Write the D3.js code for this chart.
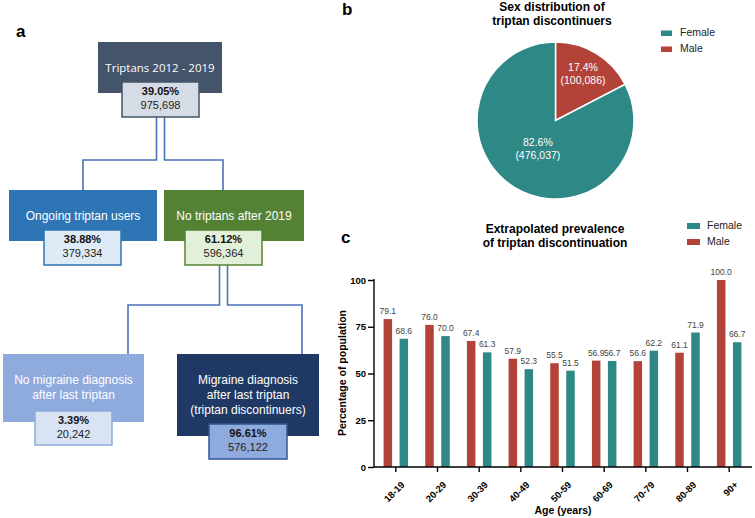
<!DOCTYPE html>
<html>
<head>
<meta charset="utf-8">
<script src="https://cdn.jsdelivr.net/npm/d3@7"></script>
<style>
  body { margin: 0; background: #fff; }
  svg { display: block; font-family: "Liberation Sans", Arial, sans-serif; }
</style>
</head>
<body>
<svg id="chart" width="755" height="518"></svg>
<script>
// ---------- DATA ----------
// Panel a: flowchart nodes
const flowLabels = [
  ["Triptans 2012 - 2019"],
  ["Ongoing triptan users"],
  ["No triptans after 2019"],
  ["No migraine diagnosis", "after last triptan"],
  ["Migraine diagnosis", "after last triptan", "(triptan discontinuers)"]
];
const flowPct = ["39.05%", "38.88%", "61.12%", "3.39%", "96.61%"];
const flowCount = ["975,698", "379,334", "596,364", "20,242", "576,122"];
const flowParent = [null, 0, 0, 2, 2];

// Panel b: pie
const sexes = ["Male", "Female"];
const sexCounts = [100086, 476037];
const sexPctLabels = ["17.4%", "82.6%"];
const sexCountLabels = ["(100,086)", "(476,037)"];

// Panel c: grouped bars
const ageGroups = ["18-19", "20-29", "30-39", "40-49", "50-59", "60-69", "70-79", "80-89", "90+"];
const maleValues = [79.1, 76.0, 67.4, 57.9, 55.5, 56.9, 56.6, 61.1, 100.0];
const femaleValues = [68.6, 70.0, 61.3, 52.3, 51.5, 56.7, 62.2, 71.9, 66.7];
const yTicks = [0, 25, 50, 75, 100];

// ---------- STYLE / LAYOUT ----------
const teal = "#2e8886";
const red = "#b34338";
const boxLayout = [
  {x: 98, y: 42, w: 124, h: 51, ix: 122, iy: 82, iw: 77, ih: 35, fill: "#44546a", ifill: "#d6dce5", istroke: "#44546a", midY: 160},
  {x: 9, y: 190, w: 148, h: 51, ix: 44, iy: 230, iw: 77, ih: 35, fill: "#2e75b6", ifill: "#deebf7", istroke: "#2e75b6", inX: 83},
  {x: 164, y: 190, w: 140, h: 51, ix: 185, iy: 230, iw: 77, ih: 35, fill: "#548235", ifill: "#e2f0d9", istroke: "#548235", inX: 223, midY: 305},
  {x: 3, y: 354, w: 141, h: 68, ix: 35, iy: 411, iw: 77, ih: 34, fill: "#8faadc", ifill: "#dae3f3", istroke: "#8faadc", inX: 128},
  {x: 177, y: 354, w: 142, h: 82, ix: 209, iy: 424, iw: 78, ih: 35, fill: "#203864", ifill: "#8faadc", istroke: "#2f5597", inX: 302}
];

const svg = d3.select("#chart");

// ---------- PANEL A: FLOWCHART ----------
const gA = svg.append("g");
gA.append("text").attr("x", 16).attr("y", 37).attr("font-size", 17).attr("font-weight", "bold").text("a");

// connectors
const connColor = "#4a72b8";
const children = {};
flowParent.forEach((p, i) => { if (p !== null) (children[p] = children[p] || []).push(i); });
Object.keys(children).forEach(p => {
  const pb = boxLayout[p];
  const kids = children[p];
  const bottom = pb.iy + pb.ih;
  const cx = pb.ix + pb.iw / 2;
  kids.forEach((k, j) => {
    const kb = boxLayout[k];
    const sx = j === 0 ? cx - 4 : cx + 4;
    gA.append("path")
      .attr("d", d3.line()([[sx, bottom], [sx, pb.midY], [kb.inX, pb.midY], [kb.inX, kb.y]]))
      .attr("fill", "none").attr("stroke", connColor).attr("stroke-width", 1.6);
  });
});

flowLabels.forEach((lines, i) => {
  const b = boxLayout[i];
  gA.append("rect").attr("x", b.x).attr("y", b.y).attr("width", b.w).attr("height", b.h).attr("fill", b.fill);
  lines.forEach((t, j) => {
    gA.append("text").attr("x", b.x + b.w / 2).attr("y", b.y + 26.5 + j * 15)
      .attr("text-anchor", "middle").attr("dominant-baseline", "middle")
      .attr("fill", "#fff").attr("font-size", i === 0 ? 11.5 : 12)
      .attr("font-family", i === 0 ? "'Open Sans', sans-serif" : null)
      .text(t);
  });
  gA.append("rect").attr("x", b.ix).attr("y", b.iy).attr("width", b.iw).attr("height", b.ih)
    .attr("fill", b.ifill).attr("stroke", b.istroke).attr("stroke-width", 1.5);
  gA.append("text").attr("x", b.ix + b.iw / 2).attr("y", b.iy + 10.5)
    .attr("text-anchor", "middle").attr("dominant-baseline", "middle")
    .attr("font-size", 11).attr("font-weight", "bold").attr("fill", "#111").text(flowPct[i]);
  gA.append("text").attr("x", b.ix + b.iw / 2).attr("y", b.iy + 24.5)
    .attr("text-anchor", "middle").attr("dominant-baseline", "middle")
    .attr("font-size", 11).attr("fill", "#222").text(flowCount[i]);
});

// ---------- PANEL B: PIE ----------
const gB = svg.append("g");
gB.append("text").attr("x", 342).attr("y", 15).attr("font-size", 17).attr("font-weight", "bold").text("b");
gB.append("text").attr("x", 552).attr("y", 11).attr("text-anchor", "middle").attr("font-size", 12).attr("font-weight", "bold").text("Sex distribution of");
gB.append("text").attr("x", 552).attr("y", 24.5).attr("text-anchor", "middle").attr("font-size", 12).attr("font-weight", "bold").text("triptan discontinuers");

const pieColor = d3.scaleOrdinal().domain(sexes).range([red, teal]);
const pie = d3.pie().sort(null).value(d => d.v);
const pieData = pie(sexes.map((s, i) => ({s, v: sexCounts[i], p: sexPctLabels[i], c: sexCountLabels[i]})));
const R = 78.5;
const arc = d3.arc().innerRadius(0).outerRadius(R);
const labelR = [53, 34];
const gPie = gB.append("g").attr("transform", "translate(555.5,120.5)");
gPie.selectAll("path").data(pieData).join("path")
  .attr("d", arc).attr("fill", d => pieColor(d.data.s))
  .attr("stroke", "#fff").attr("stroke-width", 1.5);
pieData.forEach((d, i) => {
  const a = (d.startAngle + d.endAngle) / 2;
  const lx = Math.sin(a) * labelR[i], ly = -Math.cos(a) * labelR[i];
  gPie.append("text").attr("x", lx).attr("y", ly - 6.5).attr("text-anchor", "middle").attr("dominant-baseline", "middle")
    .attr("fill", "#fff").attr("font-size", 10.5).text(d.data.p);
  gPie.append("text").attr("x", lx).attr("y", ly + 6.5).attr("text-anchor", "middle").attr("dominant-baseline", "middle")
    .attr("fill", "#fff").attr("font-size", 10.5).text(d.data.c);
});
["Female", "Male"].forEach((s, i) => {
  gB.append("rect").attr("x", 661).attr("y", 30.5 + i * 16).attr("width", 11).attr("height", 5.5).attr("fill", pieColor(s));
  gB.append("text").attr("x", 680).attr("y", 33.5 + i * 16).attr("dominant-baseline", "middle")
    .attr("font-size", 10.5).attr("fill", "#222").text(s);
});

// ---------- PANEL C: BARS ----------
const gC = svg.append("g");
gC.append("text").attr("x", 341).attr("y", 243).attr("font-size", 17).attr("font-weight", "bold").text("c");
gC.append("text").attr("x", 555).attr("y", 233).attr("text-anchor", "middle").attr("font-size", 12).attr("font-weight", "bold").text("Extrapolated prevalence");
gC.append("text").attr("x", 555).attr("y", 247).attr("text-anchor", "middle").attr("font-size", 12).attr("font-weight", "bold").text("of triptan discontinuation");

const x0 = d3.scaleBand().domain(ageGroups).range([375, 750]).padding(0);
const bw = x0.bandwidth();
const x1 = d3.scaleBand().domain(["Male", "Female"]).range([bw / 2 - 12, bw / 2 + 12]).paddingInner(0.5).paddingOuter(0);
const y = d3.scaleLinear().domain([0, 100]).range([467, 280]);

const barData = [];
ageGroups.forEach((g, i) => {
  barData.push({g, s: "Male", v: maleValues[i]});
  barData.push({g, s: "Female", v: femaleValues[i]});
});
const barW = 8.5;
gC.selectAll("rect.bar").data(barData).join("rect").attr("class", "bar")
  .attr("x", d => x0(d.g) + x1(d.s) + x1.bandwidth() / 2 - barW / 2)
  .attr("y", d => y(d.v)).attr("width", barW).attr("height", d => y(0) - y(d.v))
  .attr("fill", d => d.s === "Male" ? red : teal);
gC.selectAll("text.val").data(barData).join("text").attr("class", "val")
  .attr("x", d => x0(d.g) + x1(d.s) + x1.bandwidth() / 2)
  .attr("y", d => y(d.v) - 5)
  .attr("text-anchor", "middle").attr("font-size", 8.5).attr("fill", "#444")
  .text(d => d.v.toFixed(1));

// axes
const yAxis = d3.axisLeft(y).tickValues(yTicks).tickSize(6).tickPadding(2);
const gy = gC.append("g").attr("transform", "translate(374,0)").call(yAxis);
gy.select(".domain").attr("stroke", "#000").attr("stroke-width", 1.4).attr("d", "M0,279V467");
gy.selectAll(".tick line").attr("stroke", "#000").attr("stroke-width", 1.4);
gy.selectAll(".tick text").attr("font-size", 9.5).attr("font-weight", "bold").attr("fill", "#000")
  .attr("font-family", "'Liberation Sans', Arial, sans-serif");

const xAxis = d3.axisBottom(x0).tickSize(5).tickPadding(3);
const gx = gC.append("g").attr("transform", "translate(0,467)").call(xAxis);
gx.select(".domain").attr("stroke", "#000").attr("stroke-width", 1.4).attr("d", "M374,0H752");
gx.selectAll(".tick line").attr("stroke", "#000").attr("stroke-width", 1.4);
gx.selectAll(".tick text").attr("font-size", 9.5).attr("font-weight", "bold").attr("fill", "#000")
  .attr("font-family", "'Liberation Sans', Arial, sans-serif")
  .attr("text-anchor", "end").attr("dy", null).attr("dominant-baseline", "middle")
  .attr("transform", "translate(2,11) rotate(-45)");

gC.append("text").attr("x", 563).attr("y", 514).attr("text-anchor", "middle").attr("font-size", 10.5).attr("font-weight", "bold").text("Age (years)");
gC.append("text").attr("transform", "translate(346,373) rotate(-90)").attr("text-anchor", "middle")
  .attr("font-size", 10.5).attr("font-weight", "bold").text("Percentage of population");

["Female", "Male"].forEach((s, i) => {
  gC.append("rect").attr("x", 687).attr("y", 223 + i * 16).attr("width", 13).attr("height", 6).attr("fill", s === "Male" ? red : teal);
  gC.append("text").attr("x", 707).attr("y", 226 + i * 16).attr("dominant-baseline", "middle")
    .attr("font-size", 10.5).attr("fill", "#222").text(s);
});
</script>
</body>
</html>
